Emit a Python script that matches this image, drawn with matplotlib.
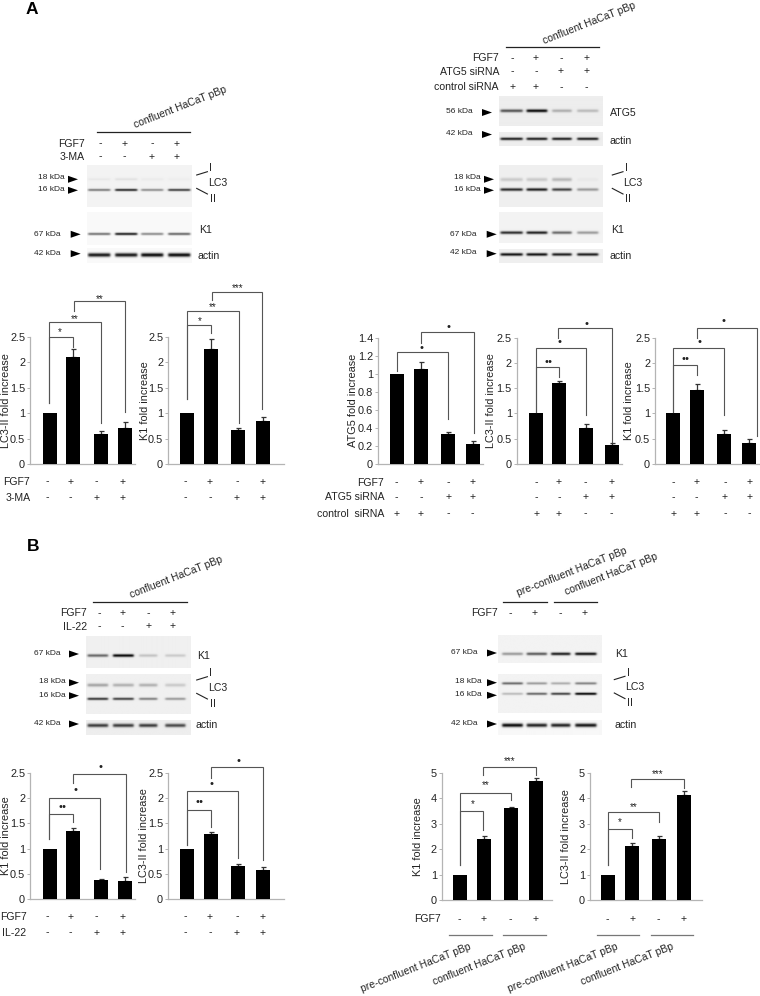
import numpy as np
import matplotlib
matplotlib.use("Agg")
import matplotlib.pyplot as plt
from matplotlib.patches import Polygon

plt.rcParams['font.family'] = ['Liberation Sans', 'DejaVu Sans']

W, H = 760, 996
DARK = '#222222'
GREY = '#b4b4b4'
LINE = '#555555'

# bar values
lc3_a = [1, 2.10, 0.60, 0.70]
lc3_a_err = [0, 0.16, 0.04, 0.13]
k1_a = [1, 2.27, 0.67, 0.85]
k1_a_err = [0, 0.20, 0.03, 0.07]
atg5_si = [1.0, 1.05, 0.33, 0.22]
atg5_si_err = [0, 0.08, 0.03, 0.04]
lc3_si = [1, 1.60, 0.72, 0.37]
lc3_si_err = [0, 0.04, 0.08, 0.04]
k1_si = [1, 1.47, 0.60, 0.41]
k1_si_err = [0, 0.11, 0.08, 0.08]
k1_il = [1, 1.35, 0.38, 0.37]
k1_il_err = [0, 0.06, 0.03, 0.08]
lc3_il = [1, 1.28, 0.65, 0.57]
lc3_il_err = [0, 0.05, 0.04, 0.07]
k1_pre = [1, 2.40, 3.60, 4.67]
k1_pre_err = [0, 0.13, 0.07, 0.13]
lc3_pre = [1, 2.13, 2.40, 4.13]
lc3_pre_err = [0, 0.12, 0.10, 0.15]

ticks_25 = [0, 0.5, 1, 1.5, 2, 2.5]
ticks_14 = [0, 0.2, 0.4, 0.6, 0.8, 1, 1.2, 1.4]
ticks_5 = [0, 1, 2, 3, 4, 5]

# values, errors, ylabel, ticks, axis left/right/top/bottom, bar x, ylabel x
charts = [
    (lc3_a, lc3_a_err, 'LC3-II fold increase', ticks_25, 30, 135, 337, 464, [49.7, 73, 100.7, 125.3], 6),
    (k1_a, k1_a_err, 'K1 fold increase', ticks_25, 168, 284, 337, 464, [187.3, 211, 238.3, 263.3], 144.5),
    (atg5_si, atg5_si_err, 'ATG5 fold increase', ticks_14, 378, 483, 337.7, 464, [397.3, 421, 448.3, 473.3], 353.5),
    (lc3_si, lc3_si_err, 'LC3-II fold increase', ticks_25, 516.7, 621.7, 337.7, 464, [535.7, 559, 586.3, 611.7], 491),
    (k1_si, k1_si_err, 'K1 fold increase', ticks_25, 655, 760, 337.7, 464, [673.3, 697, 724, 749.3], 629.5),
    (k1_il, k1_il_err, 'K1 fold increase', ticks_25, 30, 135, 772.7, 899.3, [49.7, 73, 100.7, 125.3], 5.7),
    (lc3_il, lc3_il_err, 'LC3-II fold increase', ticks_25, 168, 284, 772.7, 899.3, [187.3, 211, 238.3, 263.3], 144),
    (k1_pre, k1_pre_err, 'K1 fold increase', ticks_5, 441.7, 551.7, 772.7, 900, [460.3, 483.7, 511, 536.3], 417.7),
    (lc3_pre, lc3_pre_err, 'LC3-II fold increase', ticks_5, 590, 701.7, 772.7, 900, [608, 631.7, 659, 684], 566),
]

# significance brackets: left x, left bottom, right x, right bottom, top, mark, mark x, mark y
brackets = [
    (49.3, 403, 72.7, 347, 336.7, '*', 60, 331),
    (49.3, 403, 100.7, 423, 321.7, '**', 75, 318),
    (74, 311, 124.7, 411.7, 301, '**', 100, 298),
    (187.3, 399, 211, 333, 325, '*', 200, 320),
    (187.3, 399, 238.7, 422.7, 311.3, '**', 213, 306),
    (212, 300, 262.3, 409.3, 291.7, '***', 237.7, 287),
    (397.3, 370.7, 448.3, 419.3, 351.7, '•', 421, 347.7),
    (421, 343, 474, 432.7, 331.7, '•', 448.3, 326.7),
    (535.7, 411.7, 559, 377.3, 367.3, '••', 548.3, 362.3),
    (535.7, 411.7, 586.3, 415, 348.3, '•', 559.7, 342.3),
    (558.3, 338.3, 611.7, 441.7, 328.3, '•', 586.7, 323.7),
    (673.3, 411.7, 696.7, 375, 365, '••', 685.7, 359),
    (673.3, 411.7, 723.7, 415, 347.7, '•', 699.3, 342.3),
    (696.7, 338.3, 757, 436, 328.3, '•', 723.3, 321.3),
    (49.3, 839.3, 72.7, 821.7, 814, '••', 62.3, 807.3),
    (49.3, 839.3, 100, 869.3, 797.7, '•', 75, 790),
    (72.7, 783.3, 125.7, 871.7, 773.7, '•', 100.7, 767.3),
    (187.3, 845, 210.7, 826.7, 810.3, '••', 199, 802.3),
    (187.3, 845, 237.7, 858.3, 790.7, '•', 212, 783.7),
    (210.7, 778.3, 263.3, 860, 767.3, '•', 238.3, 760.7),
    (460.3, 865, 483.3, 830, 810.7, '*', 472.3, 803),
    (460.3, 865, 511, 800, 792.7, '**', 486, 784),
    (482.7, 775, 535.7, 775, 766.7, '***', 510, 759.5),
    (608, 865, 631.7, 838.3, 829.3, '*', 620, 821),
    (608, 865, 659, 821.7, 812.3, '**', 633.7, 806),
    (631, 786.7, 683.7, 788.3, 779, '***', 657.7, 773),
]

# + / - rows: label, signs, label right edge, row y, column x
cols_1 = [47.7, 70.3, 96.7, 122.7]
cols_2 = [185.7, 210, 237, 262.3]
cols_3 = [396.7, 421, 448.3, 472.7]
cols_4 = [536.3, 559, 585.7, 611.3]
cols_5 = [673.7, 696.3, 725, 749.3]
sign_rows = [
    ('FGF7', '-+-+', 85, 144, [100, 124.7, 152, 176.7]),
    ('3-MA', '--++', 85, 157, [100, 124.7, 152, 176.7]),
    ('FGF7', '-+-+', 499, 58.3, [512.3, 536, 561, 586.7]),
    ('ATG5 siRNA', '--++', 499, 71.7, [512.3, 536, 561, 586.7]),
    ('control siRNA', '++--', 499, 87.3, [512.3, 536, 561, 586.7]),
    ('FGF7', '-+-+', 29.5, 482, cols_1),
    ('3-MA', '--++', 31, 498, cols_1),
    ('', '-+-+', 0, 482, cols_2),
    ('', '--++', 0, 498, cols_2),
    ('FGF7', '-+-+', 384.3, 482.7, cols_3),
    ('ATG5 siRNA', '--++', 384.3, 497.3, cols_3),
    ('control  siRNA', '++--', 384.3, 514, cols_3),
    ('', '-+-+', 0, 482.7, cols_4),
    ('', '--++', 0, 497.3, cols_4),
    ('', '++--', 0, 514, cols_4),
    ('', '-+-+', 0, 482.7, cols_5),
    ('', '--++', 0, 497.3, cols_5),
    ('', '++--', 0, 514, cols_5),
    ('FGF7', '-+-+', 87, 613.3, [99, 122.7, 148.3, 172.3]),
    ('IL-22', '--++', 87, 626.7, [99, 122.7, 148.3, 172.3]),
    ('FGF7', '-+-+', 498, 613.3, [510, 535, 560.7, 585]),
    ('FGF7', '-+-+', 26.5, 917, cols_1),
    ('IL-22', '--++', 26, 933, cols_1),
    ('', '-+-+', 0, 917, cols_2),
    ('', '--++', 0, 933, cols_2),
    ('FGF7', '-+-+', 441, 919.3, [459.3, 484, 510, 535.7]),
    ('', '-+-+', 0, 919.3, [607.3, 632.3, 658.3, 684]),
]

# horizontal rules: x0, x1, y, colour
rules = [
    (97, 190, 132.3, DARK), (505.7, 598.7, 47, DARK), (93, 186.7, 602, DARK),
    (503.3, 546.7, 602.3, DARK), (554, 597.3, 602.3, DARK),
    (449.3, 491.7, 935, '#777777'), (502.7, 545.7, 935, '#777777'),
    (596.7, 639, 935, '#777777'), (650.7, 693.3, 935, '#777777'),
]

# slanted cell line captions: text, x, y, ha
captions = [
    ('confluent HaCaT pBp', 135, 128, 'left'),
    ('confluent HaCaT pBp', 544, 43.7, 'left'),
    ('confluent HaCaT pBp', 131.7, 598.3, 'left'),
    ('pre-confluent HaCaT pBp', 518.3, 596, 'left'),
    ('confluent HaCaT pBp', 566.7, 595.3, 'left'),
    ('pre-confluent HaCaT pBp', 471.7, 949, 'right'),
    ('confluent HaCaT pBp', 526, 949, 'right'),
    ('pre-confluent HaCaT pBp', 619, 949, 'right'),
    ('confluent HaCaT pBp', 674.3, 949, 'right'),
]

lanes_a = [(88, 110), (115, 137), (141, 163), (168, 190)]
lanes_si = [(500.7, 522.7), (526.7, 547.3), (552.3, 571.7), (577.3, 598.3)]
lanes_il = [(87.7, 108), (113, 133.5), (139, 157), (165, 185)]
lanes_pre = [(502.3, 522.7), (526.7, 546.7), (551, 570), (575, 596)]

# blots: x0, x1, y0, y1, background, lanes, list of (band y, thickness, darkness per lane)
blots = [
    (87, 192, 165, 207, 0.95, lanes_a, [(179, 1.2, [.04, .07, .03, .02]), (189.7, 1.1, [.5, .85, .42, .75])]),
    (87, 192, 212, 245, 0.98, lanes_a, [(233.7, 1.2, [.55, .9, .45, .6])]),
    (87, 192, 248, 263, 0.98, lanes_a, [(254.7, 1.9, [.9, .9, .95, .95])]),
    (499.3, 603.3, 96.7, 126, 0.93, lanes_si, [(111, 1.5, [.6, .9, .25, .2])]),
    (499.3, 603.3, 131.7, 145.7, 0.93, lanes_si, [(138.3, 1.3, [.85, .85, .85, .85])]),
    (499.3, 603.3, 165.7, 207.3, 0.94, lanes_si, [(180, 1.8, [.15, .15, .22, .03]), (190, 1.4, [.8, .85, .7, .35])]),
    (499.3, 603.3, 212.3, 243.3, 0.95, lanes_si, [(232.7, 1.4, [.8, .85, .55, .35])]),
    (499.3, 603.3, 249.3, 263.3, 0.94, lanes_si, [(254.5, 1.4, [.9, .9, .85, .85])]),
    (86.3, 190.7, 636.7, 668.3, 0.94, lanes_il, [(656, 1.4, [.55, .95, .18, .15])]),
    (86.3, 190.7, 675, 714.3, 0.94, lanes_il, [(685.7, 1.6, [.3, .25, .25, .15]), (699.3, 1.2, [.75, .7, .45, .35])]),
    (86.3, 190.7, 720.7, 735, 0.93, lanes_il, [(725.7, 1.7, [.7, .7, .7, .65])]),
    (498.3, 601.7, 636, 663.3, 0.95, lanes_pre, [(654.3, 1.4, [.35, .6, .85, .9])]),
    (498.3, 601.7, 675, 713.3, 0.95, lanes_pre, [(684, 1.2, [.55, .35, .28, .45]), (694.3, 1.2, [.22, .55, .7, .95])]),
    (498.3, 601.7, 720, 735, 0.97, lanes_pre, [(725, 1.8, [.95, .85, .85, .9])]),
]

# molecular weight labels: text, label right edge, label y, arrow left x, arrow y
weights = [
    ('18 kDa', 65, 177, 68, 179.3), ('16 kDa', 65, 189.7, 68, 190.3),
    ('67 kDa', 61, 234, 70.7, 234.3), ('42 kDa', 61, 253, 70.7, 253.7),
    ('56 kDa', 473, 111.3, 482, 112.5), ('42 kDa', 473, 133.7, 482, 134.5),
    ('18 kDa', 481, 177, 484, 179.3), ('16 kDa', 481, 189.7, 484, 190.3),
    ('67 kDa', 477, 234, 486.7, 234.3), ('42 kDa', 477, 252.3, 486.7, 253.7),
    ('67 kDa', 60, 653, 69, 654), ('18 kDa', 65.7, 681.7, 69, 682.7),
    ('16 kDa', 65.7, 695, 69, 695.7), ('42 kDa', 60, 723, 69, 724),
    ('67 kDa', 477.7, 652, 487, 653), ('18 kDa', 482, 681.7, 487, 682.7),
    ('16 kDa', 482, 694.7, 487, 695.3), ('42 kDa', 477.7, 723, 487, 724),
]

# protein names next to the blots
proteins = [
    ('K1', 199, 230), ('actin', 197.7, 255.7), ('ATG5', 610, 112.7), ('actin', 609.3, 141),
    ('K1', 610.7, 230), ('actin', 610, 255.7), ('K1', 196.7, 656), ('actin', 196, 725),
    ('K1', 615, 654), ('actin', 614.3, 725),
]

# LC3 I / II marks: line left x, centre y
lc3_marks = [(196.7, 182.7), (612.3, 182.7), (196.7, 687.7), (614.3, 687.3)]


fig = plt.figure(figsize=(W / 100, H / 100), dpi=100, facecolor='white')

# bar charts
for values, errs, ylabel, ticks, left, right, top, bottom, xs, label_x in charts:
    ax = fig.add_axes([left / W, 1 - bottom / H, (right - left) / W, (bottom - top) / H])
    ax.patch.set_alpha(0)
    ax.bar(xs, values, width=14, color='black', zorder=3)
    ax.errorbar(xs[1:], values[1:], yerr=[[0, 0, 0], errs[1:]], fmt='none', ecolor='#333333',
                elinewidth=0.9, capsize=1.8, capthick=0.9, zorder=2)
    ax.set_xlim(left, right)
    ax.set_ylim(0, ticks[-1])
    ax.set_xticks([])
    ax.set_yticks(ticks)
    ax.set_yticklabels([str(t) for t in ticks], fontsize=7.9, color=DARK)
    ax.tick_params(axis='y', length=2, width=0.7, color=GREY, pad=1.5)
    for s in ['top', 'right']:
        ax.spines[s].set_visible(False)
    for s in ['left', 'bottom']:
        ax.spines[s].set_color(GREY)
        ax.spines[s].set_linewidth(0.9)
    ax.set_ylabel(ylabel, fontsize=7.8, color=DARK, va='center')
    ax.yaxis.set_label_coords((label_x - left) / (right - left), 0.5)

# everything else goes on one overlay in picture pixels
ov = fig.add_axes([0, 0, 1, 1], zorder=5)
ov.patch.set_alpha(0)
ov.axis('off')

for x0, x1, y0, y1, bg, lanes, bands in blots:
    ys, xs = np.mgrid[y0:y1:0.5, x0:x1:0.5]
    img = np.full(xs.shape, bg)
    for band_y, thick, dark in bands:
        for (a, b), d in zip(lanes, dark):
            env = 0.25 * (1 + np.tanh((xs - a) / 1.2)) * (1 + np.tanh((b - xs) / 1.2))
            img -= d * env * np.exp(-((ys - band_y) / thick) ** 2)
    ov.imshow(np.clip(img, 0, 1), extent=(x0, x1, y1, y0), cmap='gray', vmin=0, vmax=1,
              aspect='auto', interpolation='bilinear')

for x0, x1, y, color in rules:
    ov.plot([x0, x1], [y, y], color=color, lw=0.9)

for text, x, y, ha in captions:
    ov.text(x, y, text, fontsize=7.5, color=DARK, rotation=21.5, rotation_mode='anchor',
            ha=ha, va='baseline')

for label, signs, label_x, y, cols in sign_rows:
    if label:
        ov.text(label_x, y, label, fontsize=7.6, color=DARK, ha='right', va='center')
    for c, sign in zip(cols, signs):
        ov.text(c, y - 0.5, sign, fontsize=7.6, color=DARK, ha='center', va='center')

for x_l, y_l, x_r, y_r, top, mark, mark_x, mark_y in brackets:
    ov.plot([x_l, x_l, x_r, x_r], [y_l, top, top, y_r], color=LINE, lw=0.8,
            solid_joinstyle='miter')
    if '*' in mark:
        ov.text(mark_x, mark_y + 1.5, mark, fontsize=7, color=DARK, ha='center', va='center')
    else:
        ov.text(mark_x, mark_y, mark, fontsize=8, color=DARK, ha='center', va='center')

for text, label_x, label_y, arrow_x, arrow_y in weights:
    ov.text(label_x, label_y, text, fontsize=6, color=DARK, ha='right', va='center')
    ov.add_patch(Polygon([[arrow_x, arrow_y - 3.5], [arrow_x + 10, arrow_y], [arrow_x, arrow_y + 3.5]],
                         closed=True, color='black', lw=0))

for text, x, y in proteins:
    ov.text(x, y, text, fontsize=7.6, color=DARK, ha='left', va='center')

for x, y in lc3_marks:
    ov.plot([x, x + 10.7], [y - 7.7, y - 11], color=DARK, lw=0.8)
    ov.plot([x, x + 10.7], [y + 5.7, y + 11.3], color=DARK, lw=0.8)
    ov.text(x + 12.3, y - 14.5, 'I', fontsize=7.6, color=DARK, ha='left', va='center')
    ov.text(x + 11, y, 'LC3', fontsize=7.6, color=DARK, ha='left', va='center')
    ov.text(x + 13, y + 16, 'II', fontsize=7.6, color=DARK, ha='left', va='center')

ov.text(26, 9, 'A', fontsize=12.5, fontweight='bold', color='black', ha='left', va='center')
ov.text(27, 546, 'B', fontsize=12.5, fontweight='bold', color='black', ha='left', va='center')

ov.set_xlim(0, W)
ov.set_ylim(H, 0)

fig.savefig('out.png', dpi=100)
